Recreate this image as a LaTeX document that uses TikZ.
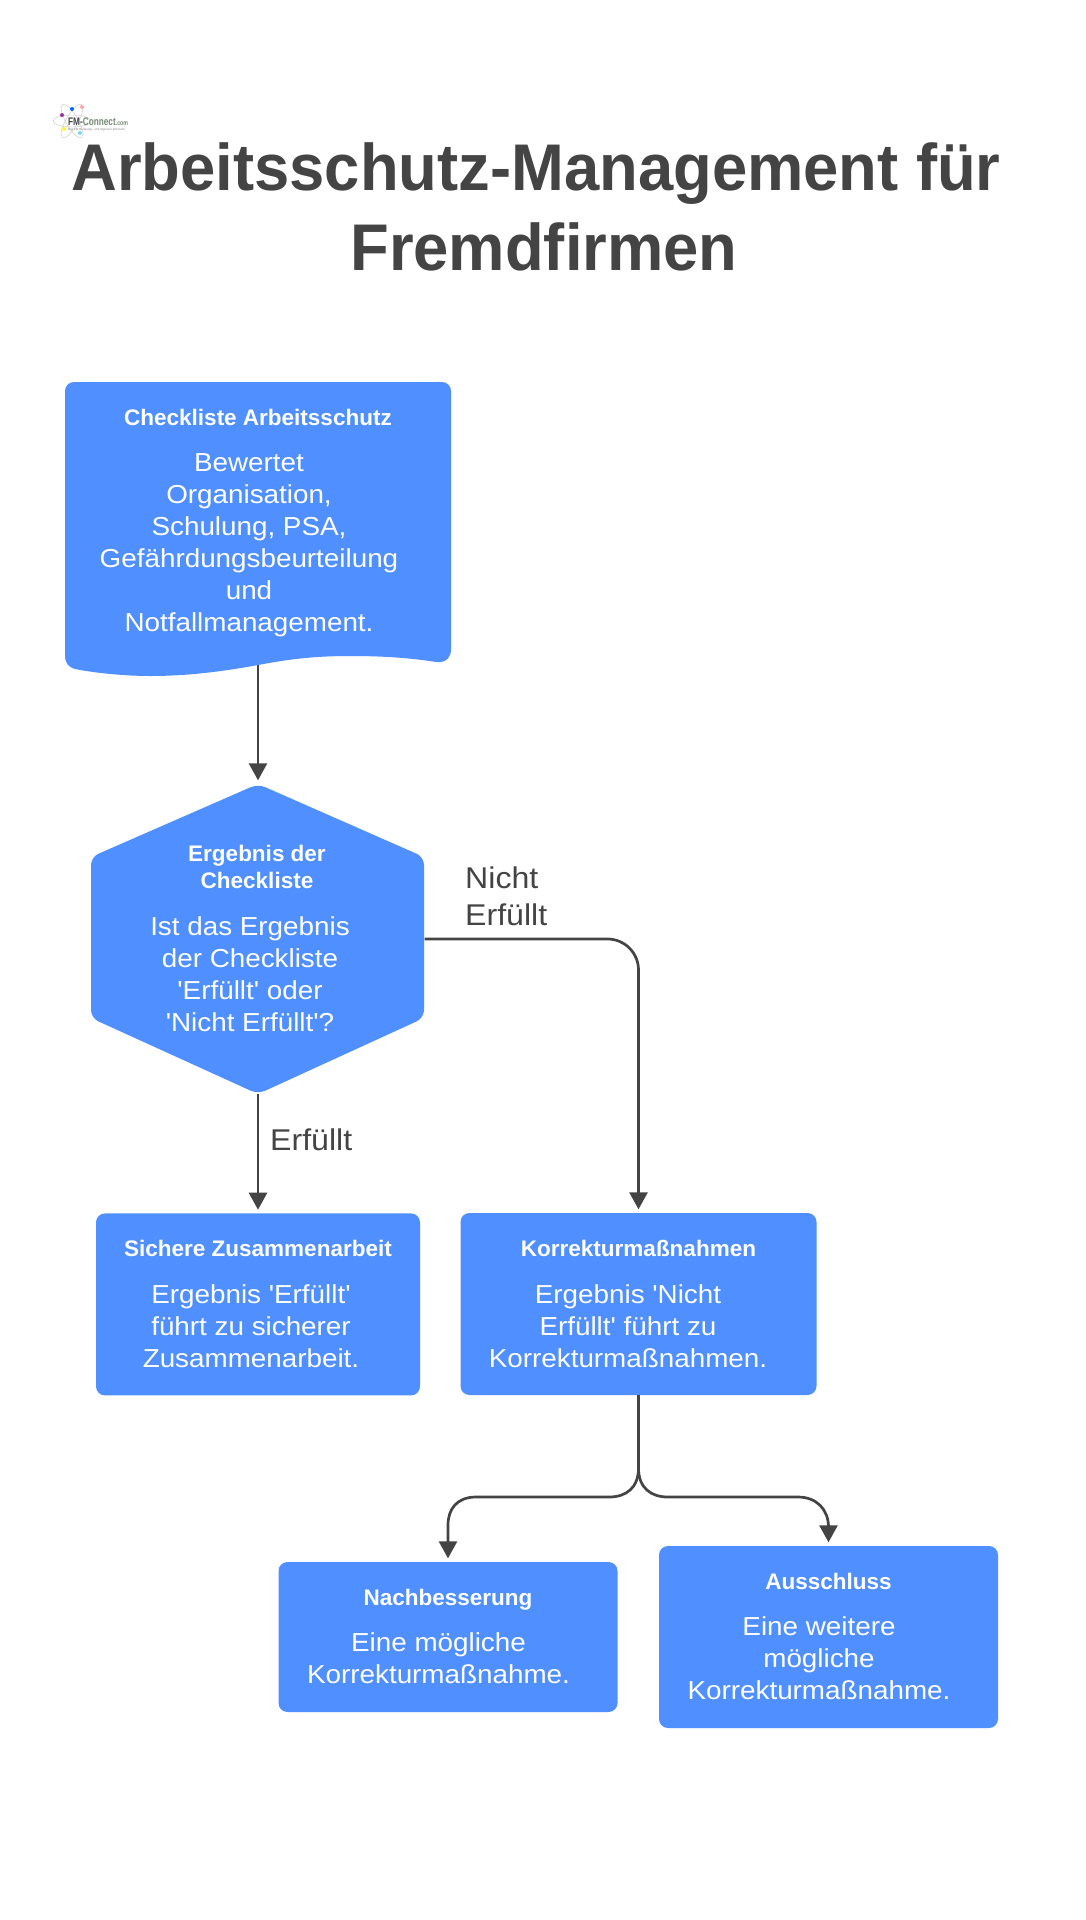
\documentclass[tikz,border=0pt]{standalone}
\usepackage{fontspec}
\setmainfont{Liberation Sans}[Ligatures=TeXOff]
\newfontfamily\bodyfont{Liberation Sans}[FakeStretch=1.07,Ligatures=TeXOff]
\newfontfamily\titlefont{Liberation Sans}[FakeStretch=0.96,Ligatures=TeXOff]
\usetikzlibrary{arrows.meta,positioning}

\definecolor{boxblue}{HTML}{4F8FFF}
\definecolor{inkgray}{HTML}{444444}

\tikzset{
    flow/.style = {draw = inkgray, line width = 2.7pt, -{Triangle[length=17pt,width=18pt]}, shorten > = 3.5pt},
    blockbox/.style = {fill = boxblue, rounded corners = 9pt, inner sep = 0pt},
    plainbox/.style = {inner sep = 0pt},
    headtext/.style = {text = white, font = \fontsize{22.5}{27}\selectfont\bfseries, align = center, inner sep = 0pt, anchor = base},
    bodytext/.style = {text = white, font = \bodyfont\fontsize{26}{32}\selectfont, align = center, inner sep = 0pt, anchor = base},
    edgetext/.style = {text = inkgray, font = \bodyfont\fontsize{30}{37}\selectfont, align = left, inner sep = 0pt, anchor = base west}
}

\begin{document}
\begin{tikzpicture}[x = 1pt, y = -1pt]
    \useasboundingbox (0,0) rectangle (1086,1920);
    \fill[white] (0,0) rectangle (1086,1920);

    % logo
    \foreach \ang in {0,60,120} {
        \draw[gray!40, line width = 0.5pt, rotate around = {\ang:(72,121)}] (72,121) ellipse (19 and 6);
    }
    \fill[violet!80] (62,115) circle (2);
    \fill[blue!60!cyan] (72,109) circle (2);
    \fill[red!35] (82,107) circle (2);
    \fill[yellow!80] (64,129) circle (2);
    \fill[cyan!50] (80,133) circle (2);
    \node[inner sep = 0pt, anchor = base west, xscale = 0.75, transform shape, text = inkgray, font = \fontsize{11}{11}\selectfont\bfseries] (logoname) at (68,125) {FM-\textcolor{gray!90!green}{Connect\fontsize{7}{7}\selectfont.com}};
    \node[inner sep = 0pt, anchor = base west, text = gray, font = \fontsize{2.9}{3}\selectfont] (logosub) at (68,130) {Das FM-Beratungs- und Ingenieur-Netzwerk};

    % title
    \node[text = inkgray, font = \titlefont\fontsize{66}{80}\selectfont\bfseries, align = center, inner sep = 0pt, anchor = base] (title) at (536,270)
        {Arbeitsschutz-Management für\\\hspace*{16pt}Fremdfirmen};

    % checklist with wavy foot
    \node[plainbox, minimum width = 386pt, minimum height = 283pt] (check) at (258,523.5) {};
    \fill[boxblue, rounded corners = 9pt] (65,500) -- (65,382) -- (451,382) -- (451,640)
        [sharp corners] .. controls (451,657) and (447,663) .. (436,662)
        .. controls (405,657) and (375,656) .. (350,656)
        .. controls (310,656) and (285,660) .. (258,665)
        .. controls (225,671) and (190,676) .. (150,676)
        .. controls (125,676) and (95,673) .. (75,669)
        .. controls (68,667) and (65,663) .. (65,655) -- cycle;
    \node[headtext] (checkhead) at (258,425) {Checkliste Arbeitsschutz};
    \node[bodytext] (checkbody) at (249,631) {Bewertet\\Organisation,\\Schulung, PSA,\\Gefährdungsbeurteilung\\und\\Notfallmanagement.};

    % decision
    \node[plainbox, minimum width = 333pt, minimum height = 310pt] (hex) at (258,939) {};
    \fill[boxblue, rounded corners = 8pt] (91,939) -- (91,857) -- (258,784) -- (424,857) -- (424,1018) -- (258,1094) -- (91,1018) -- cycle;
    \node[headtext] (hexhead) at (257,888) {Ergebnis der\\Checkliste};
    \node[bodytext] (hexbody) at (250,1031) {Ist das Ergebnis\\der Checkliste\\'Erfüllt' oder\\'Nicht Erfüllt'?};

    % results
    \node[blockbox, minimum width = 324pt, minimum height = 182pt] (safe) [below = 119pt of hex] {};
    \node[headtext] (safehead) at (258,1256) {Sichere Zusammenarbeit};
    \node[bodytext] (safebody) at (251,1367) {Ergebnis 'Erfüllt'\\führt zu sicherer\\Zusammenarbeit.};

    \node[blockbox, minimum width = 356pt, minimum height = 182pt] (fix) at (638.5,1304) {};
    \node[headtext] (fixhead) at (638.5,1256) {Korrekturmaßnahmen};
    \node[bodytext] (fixbody) at (628,1367) {Ergebnis 'Nicht\\Erfüllt' führt zu\\Korrekturmaßnahmen.};

    \node[blockbox, minimum width = 339pt, minimum height = 150pt] (redo) at (448,1637) {};
    \node[headtext] (redohead) at (448,1605) {Nachbesserung};
    \node[bodytext] (redobody) at (438.5,1683) {Eine mögliche\\Korrekturmaßnahme.};

    \node[blockbox, minimum width = 339pt, minimum height = 182pt] (out) at (828.5,1637) {};
    \node[headtext] (outhead) at (828.5,1589) {Ausschluss};
    \node[bodytext] (outbody) at (819,1699) {Eine weitere\\mögliche\\Korrekturmaßnahme.};

    % connectors
    \draw[flow] (check.south) -- (hex.north);
    \draw[flow] (hex.south) -- (safe.north);
    \node[edgetext] (yeslabel) at (270,1150) {Erfüllt};
    \draw[flow, rounded corners = 31pt] (hex.east) -| (fix.north);
    \node[edgetext] (nolabel) at (465,925) {Nicht\\Erfüllt};

    \coordinate (split) at (638.5,1468);
    \draw[flow] (fix.south) -- (split) .. controls (638.5,1488) and (626,1497) .. (609,1497) -- (476,1497)
        .. controls (457,1497) and (448,1509) .. (448,1525) -- (redo.north);
    \draw[flow] (split) .. controls (638.5,1488) and (651,1497) .. (668,1497) -- (798,1497)
        .. controls (817,1497) and (828.5,1510) .. (828.5,1527) -- (out.north);
\end{tikzpicture}
\end{document}
